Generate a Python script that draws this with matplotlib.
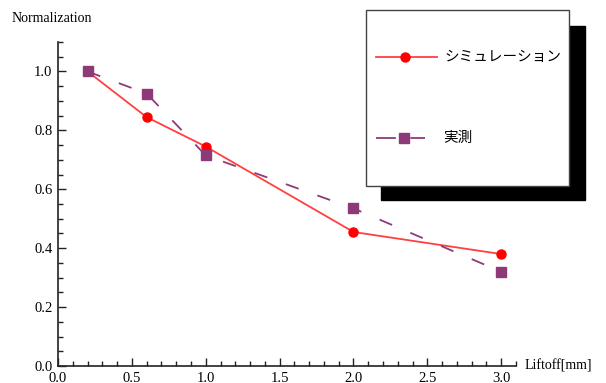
import matplotlib.pyplot as plt
from matplotlib.lines import Line2D
from matplotlib.patches import Rectangle
from matplotlib.ticker import MultipleLocator

# liftoff distance [mm]
liftoff = [0.2, 0.6, 1.0, 2.0, 3.0]
# normalized signal
sim = [1.0, 0.845, 0.745, 0.455, 0.38]
meas = [1.0, 0.925, 0.715, 0.535, 0.32]

names = ['シミュレーション', '実測']
red = '#ff4040'
purple = '#8e3a78'

W, H = 606, 383
fig = plt.figure(figsize=(W / 100, H / 100), dpi=100)
ax = fig.add_axes([58 / W, 17 / H, (516 - 58) / W, (366 - 42) / H])

ax.plot(liftoff, sim, '-', color=red, lw=1.3, marker='o', ms=6.5,
        mfc='#ff0000', mec='#ff0000', zorder=3)
ax.plot(liftoff, meas, color=purple, lw=1.3, dashes=(7.5, 11), marker='s',
        ms=6.5, mfc=purple, mec=purple, zorder=3)

ax.set_xlim(0, 3.1)
ax.set_ylim(0, 1.1)
for s in ['top', 'right']:
    ax.spines[s].set_visible(False)
for s in ['left', 'bottom']:
    ax.spines[s].set_linewidth(1.2)
    ax.spines[s].set_color('#222222')

ax.xaxis.set_major_locator(MultipleLocator(0.5))
ax.xaxis.set_minor_locator(MultipleLocator(0.1))
ax.yaxis.set_major_locator(MultipleLocator(0.2))
ax.yaxis.set_minor_locator(MultipleLocator(0.05))
ax.tick_params(which='both', direction='in', color='#222222', width=1)
ax.tick_params(which='major', length=6, labelsize=10.5, pad=4)
ax.tick_params(which='minor', length=3.5)
ax.xaxis.set_major_formatter(lambda v, p: f'{v:.1f}')
ax.yaxis.set_major_formatter(lambda v, p: f'{v:.1f}')
for t in ax.get_xticklabels() + ax.get_yticklabels():
    t.set_family('Liberation Serif')

fig.text(12 / W, 1 - 18 / H, 'Normalization', family='Liberation Serif',
         fontsize=10, va='center', ha='left')
fig.text(525 / W, 1 - 366 / H, 'Liftoff[mm]', family='Liberation Serif',
         fontsize=10, va='center', ha='left')

# legend box with drop shadow
def px(x, y):
    return x / W, 1 - y / H

fig.patches.append(Rectangle(px(381, 200), (585 - 381) / W, (200 - 26) / H,
                             transform=fig.transFigure, fc='black', ec='black',
                             zorder=1))
fig.patches.append(Rectangle(px(366, 186), (569 - 366) / W, (186 - 10) / H,
                             transform=fig.transFigure, fc='white', ec='#444444',
                             lw=1, zorder=2))

x0, y0 = px(376, 57)
x1, _ = px(437, 57)
fig.lines.append(Line2D([x0, x1], [y0, y0], transform=fig.transFigure,
                        color=red, lw=1.3, zorder=3))
fig.lines.append(Line2D([px(405, 57)[0]], [y0], transform=fig.transFigure,
                        marker='o', ms=6.5, color='#ff0000', zorder=4))
fig.text(px(444, 57)[0], y0, names[0], family='Noto Sans CJK JP',
         fontsize=10.5, va='center', ha='left', zorder=4)

x0, y1 = px(376, 138)
x1, _ = px(425, 138)
fig.lines.append(Line2D([x0, x1], [y1, y1], transform=fig.transFigure,
                        color=purple, lw=1.3, dashes=(11, 8), zorder=3))
fig.lines.append(Line2D([px(404, 138)[0]], [y1], transform=fig.transFigure,
                        marker='s', ms=6.5, color=purple, lw=0, zorder=4))
fig.text(px(443, 138)[0], y1, names[1], family='Noto Sans CJK JP',
         fontsize=10.5, va='center', ha='left', zorder=4)

fig.savefig('out.png', dpi=100)
